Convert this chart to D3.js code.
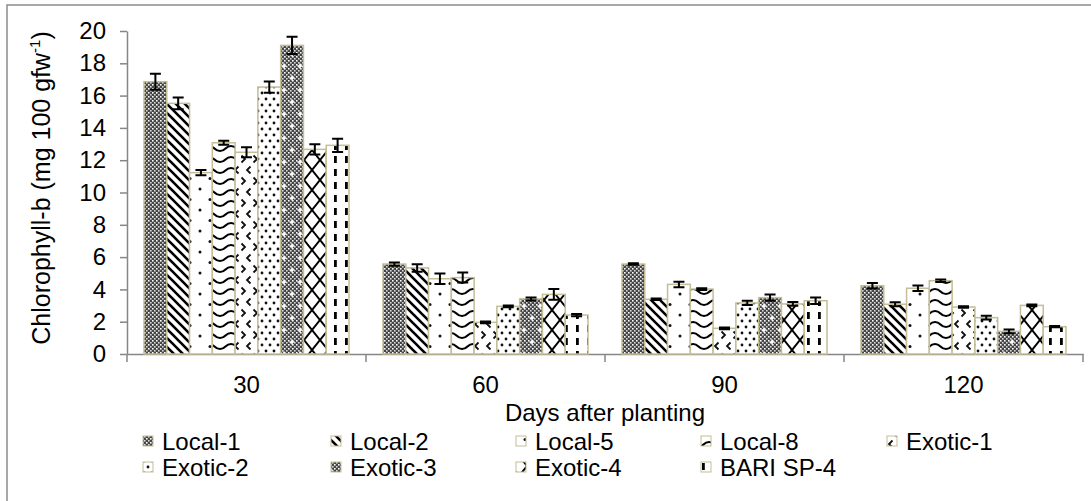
<!DOCTYPE html>
<html>
<head>
<meta charset="utf-8">
<script src="https://cdn.jsdelivr.net/npm/d3@7"></script>
<style>
  body { margin: 0; background: #fff; }
  svg { display: block; }
  text { font-family: "Liberation Sans", Arial, sans-serif; fill: #000; }
</style>
</head>
<body>
<svg id="chart" width="1091" height="501"></svg>
<script>
// Days after planting
const categories = ["30", "60", "90", "120"];
const seriesNames = ["Local-1", "Local-2", "Local-5", "Local-8", "Exotic-1",
                     "Exotic-2", "Exotic-3", "Exotic-4", "BARI SP-4"];

// Chlorophyll-b (mg 100 gfw-1), one array per genotype, in category order
const local1  = [16.86, 5.57, 5.57, 4.23];
const local2  = [15.52, 5.33, 3.39, 3.08];
const local5  = [11.23, 4.66, 4.31, 4.07];
const local8  = [13.08, 4.73, 4.02, 4.54];
const exotic1 = [12.49, 1.96, 1.59, 2.91];
const exotic2 = [16.53, 2.95, 3.16, 2.25];
const exotic3 = [19.11, 3.41, 3.49, 1.40];
const exotic4 = [12.67, 3.69, 3.10, 3.01];
const bariSP4 = [12.92, 2.41, 3.30, 1.69];

// standard errors
const local1Err  = [0.50, 0.10, 0.05, 0.17];
const local2Err  = [0.36, 0.23, 0.05, 0.12];
const local5Err  = [0.16, 0.32, 0.17, 0.17];
const local8Err  = [0.12, 0.31, 0.05, 0.08];
const exotic1Err = [0.31, 0.05, 0.05, 0.04];
const exotic2Err = [0.35, 0.06, 0.13, 0.12];
const exotic3Err = [0.53, 0.09, 0.19, 0.12];
const exotic4Err = [0.32, 0.33, 0.12, 0.05];
const bariSP4Err = [0.41, 0.07, 0.20, 0.04];

const yTicks = [0, 2, 4, 6, 8, 10, 12, 14, 16, 18, 20];

const seriesValues = [local1, local2, local5, local8, exotic1, exotic2, exotic3, exotic4, bariSP4];
const seriesErrors = [local1Err, local2Err, local5Err, local8Err, exotic1Err, exotic2Err, exotic3Err, exotic4Err, bariSP4Err];

const svg = d3.select("#chart");
const axisColor = "#868686";
const barEdge = "#c4bd97";

// chart frame
svg.append("path")
  .attr("d", "M7,501 V5 H1091")
  .attr("fill", "none").attr("stroke", "#8c8c8c").attr("stroke-width", 1.5);

const plot = { left: 127, right: 1083, top: 31, bottom: 354 };

const x0 = d3.scaleBand().domain(categories).range([plot.left, plot.right]).padding(0);
const x1 = d3.scaleBand().domain(seriesNames)
  .range([17, x0.bandwidth() - 17]).padding(0);
const y = d3.scaleLinear().domain([0, 20]).range([plot.bottom, plot.top]);

// ---- fill patterns ----
const defs = svg.append("defs");
function pattern(id, w, h, bg, draw) {
  const p = defs.append("pattern").attr("id", id)
    .attr("patternUnits", "userSpaceOnUse").attr("width", w).attr("height", h);
  p.append("rect").attr("width", w).attr("height", h).attr("fill", bg);
  draw(p);
}
function checker(p, w, h) {
  for (let i = 0; i < w; i += 4) for (let j = 0; j < h; j += 4) {
    p.append("rect").attr("x", i).attr("y", j).attr("width", 1.6).attr("height", 1.6).attr("fill", "#fff");
    p.append("rect").attr("x", i + 2).attr("y", j + 2).attr("width", 1.6).attr("height", 1.6).attr("fill", "#d8d8d8");
  }
}
// Local-1: dark fine checker
pattern("pat0", 4, 4, "#464646", p => checker(p, 4, 4));
// Local-2: wide downward diagonal
pattern("pat1", 9, 9, "#fff", p => p.append("path")
  .attr("d", "M-2,-2 L11,11 M-2,7 L2,11 M7,-2 L11,2")
  .attr("stroke", "#000").attr("stroke-width", 2.6));
// Local-5: sparse dots
pattern("pat2", 20, 21, "#fff", p => {
  [[0, 0], [20, 0], [0, 21], [20, 21], [10, 10.5]].forEach(([cx, cy]) =>
    p.append("circle").attr("cx", cx).attr("cy", cy).attr("r", 1.5).attr("fill", "#111"));
});
// Local-8: wave
pattern("pat3", 22, 11, "#fff", p => p.append("path")
  .attr("d", "M0,8 C6,8 5,3 11,3 C17,3 16,8 22,8")
  .attr("fill", "none").attr("stroke", "#000").attr("stroke-width", 2.2));
// Exotic-1: divots
pattern("pat4", 12, 22, "#fff", p => {
  p.append("path").attr("d", "M1.5,1.5 L5,5 L1.5,8.5").attr("fill", "none").attr("stroke", "#111").attr("stroke-width", 1.8);
  p.append("path").attr("d", "M10.5,12.5 L7,16 L10.5,19.5").attr("fill", "none").attr("stroke", "#111").attr("stroke-width", 1.8);
});
// Exotic-2: staggered dots
pattern("pat5", 8, 12, "#fff", p => {
  p.append("circle").attr("cx", 2).attr("cy", 3).attr("r", 1.4).attr("fill", "#111");
  p.append("circle").attr("cx", 6).attr("cy", 9).attr("r", 1.4).attr("fill", "#111");
});
// Exotic-3: dark checker with white crosses
pattern("pat6", 16, 24, "#464646", p => {
  checker(p, 16, 24);
  [[4, 6], [12, 18]].forEach(([cx, cy]) =>
    p.append("path").attr("d", `M${cx - 2.5},${cy} H${cx + 2.5} M${cx},${cy - 2.5} V${cy + 2.5}`)
      .attr("stroke", "#fff").attr("stroke-width", 1.6));
});
// Exotic-4: outlined diamonds
pattern("pat7", 16, 20, "#fff", p => p.append("path")
  .attr("d", "M0,0 L16,20 M16,0 L0,20")
  .attr("stroke", "#000").attr("stroke-width", 2));
// BARI SP-4: dashed vertical
pattern("pat8", 11, 13, "#fff", p => p.append("rect")
  .attr("x", 4).attr("y", 0).attr("width", 2.8).attr("height", 7).attr("fill", "#000"));

// ---- axes ----
const yAxis = svg.append("g").attr("transform", `translate(${plot.left},0)`)
  .call(d3.axisLeft(y).tickValues(yTicks).tickSize(7).tickSizeOuter(0).tickPadding(14));
yAxis.select(".domain").attr("stroke", axisColor).attr("stroke-width", 1.5);
yAxis.selectAll(".tick line").attr("stroke", axisColor).attr("stroke-width", 1.5);
yAxis.selectAll(".tick text").attr("font-size", 24).attr("font-family", null).attr("fill", "#000");

const xAxis = svg.append("g").attr("transform", `translate(0,${plot.bottom})`)
  .call(d3.axisBottom(x0).tickSize(0).tickSizeOuter(0).tickPadding(22));
xAxis.select(".domain").attr("stroke", axisColor).attr("stroke-width", 1.5);
xAxis.selectAll(".tick text").attr("font-size", 24).attr("font-family", null).attr("fill", "#000");
// category separators
const bounds = categories.map(c => x0(c)).concat([x0(categories[categories.length - 1]) + x0.bandwidth()]);
xAxis.selectAll("line.sep").data(bounds).join("line").attr("class", "sep")
  .attr("x1", d => d).attr("x2", d => d).attr("y1", 0).attr("y2", 8)
  .attr("stroke", axisColor).attr("stroke-width", 1.5);

// ---- bars ----
const rows = [];
seriesNames.forEach((s, i) => categories.forEach((c, j) =>
  rows.push({ s, i, c, v: seriesValues[i][j], e: seriesErrors[i][j] })));

svg.append("g").selectAll("rect").data(rows).join("rect")
  .attr("x", d => x0(d.c) + x1(d.s))
  .attr("y", d => y(d.v))
  .attr("width", x1.bandwidth())
  .attr("height", d => y(0) - y(d.v))
  .attr("fill", d => `url(#pat${d.i})`)
  .attr("stroke", barEdge).attr("stroke-width", 1.5);

// ---- error bars ----
const eb = svg.append("g").attr("stroke", "#000").attr("stroke-width", 2).attr("fill", "none");
eb.selectAll("path").data(rows).join("path")
  .attr("d", d => {
    const cx = x0(d.c) + x1(d.s) + x1.bandwidth() / 2;
    const y1 = y(d.v + d.e), y2 = y(d.v - d.e), w = 5.5;
    return `M${cx},${y1} V${y2} M${cx - w},${y1} H${cx + w} M${cx - w},${y2} H${cx + w}`;
  });

// ---- axis titles ----
svg.append("text")
  .attr("transform", `translate(50,188) rotate(-90)`)
  .attr("text-anchor", "middle").attr("font-size", 25)
  .call(t => {
    t.append("tspan").text("Chlorophyll-b (mg 100 gfw");
    t.append("tspan").attr("font-size", 15).attr("dy", -10).text("-1");
    t.append("tspan").attr("dy", 10).text(")");
  });

svg.append("text")
  .attr("x", 605).attr("y", 421)
  .attr("text-anchor", "middle").attr("font-size", 24)
  .text("Days after planting");

// ---- legend ----
const legend = svg.append("g");
const colX = [162, 350, 535, 720, 906];
const rowY = [450, 476];
seriesNames.forEach((s, i) => {
  const col = i % 5, row = Math.floor(i / 5);
  const g = legend.append("g").attr("transform", `translate(${colX[col]},${rowY[row]})`);
  g.append("rect").attr("x", -19).attr("y", -14).attr("width", 10).attr("height", 10)
    .attr("fill", `url(#pat${i})`).attr("stroke", barEdge).attr("stroke-width", 1);
  g.append("text").attr("x", 0).attr("y", 0).attr("font-size", 24).text(s);
});
</script>
</body>
</html>
